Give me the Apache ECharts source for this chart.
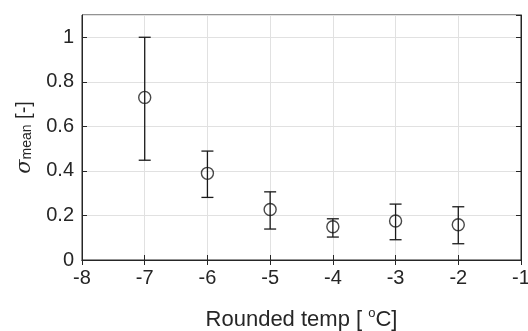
<!DOCTYPE html>
<html>
<head>
<meta charset="utf-8">
<script src="https://cdn.jsdelivr.net/npm/echarts@6/dist/echarts.min.js"></script>
<style>html,body{margin:0;padding:0;background:#fff}#c{width:528px;height:331px}</style>
</head>
<body>
<div id="c"></div>
<script>
const temps = [-7, -6, -5, -4, -3, -2];
const means = [0.73, 0.389, 0.227, 0.149, 0.175, 0.158];
const lowers = [0.448, 0.281, 0.139, 0.103, 0.091, 0.073];
const uppers = [1.0, 0.489, 0.306, 0.185, 0.251, 0.239];
const xTicks = [-8, -7, -6, -5, -4, -3, -2, -1];
const yTicks = [0, 0.2, 0.4, 0.6, 0.8, 1];

const TXT = '#262626';
const FONT = 'Liberation Sans, Arial, sans-serif';
const chart = echarts.init(document.getElementById('c'), null, {renderer: 'canvas'});

const errData = temps.map((t, i) => [t, lowers[i], uppers[i]]);
const ptData = temps.map((t, i) => [t, means[i]]);

chart.setOption({
  animation: false,
  backgroundColor: '#fff',
  grid: {left: 82, right: 7, top: 15, bottom: 71, show: true, borderColor: TXT, borderWidth: 1,
    containLabel: false, outerBoundsMode: 'none'},
  xAxis: [{
    type: 'value', min: -8, max: -1, interval: 1,
    name: '{t|Rounded temp [ }{sup|o}{t|C]}', nameLocation: 'middle', nameGap: 47,
    nameTextStyle: {color: TXT, fontSize: 22, fontFamily: FONT,
      rich: {
        t: {fontSize: 22, lineHeight: 24, color: TXT, fontFamily: FONT, verticalAlign: 'bottom'},
        sup: {fontSize: 13, lineHeight: 14, verticalAlign: 'top', color: TXT, fontFamily: FONT}
      }},
    axisLine: {show: true, lineStyle: {color: TXT, width: 1}},
    axisTick: {show: true, inside: true, length: 5, lineStyle: {color: TXT}},
    axisLabel: {color: TXT, fontSize: 20, fontFamily: FONT, margin: 8,
      formatter: v => xTicks.includes(v) ? String(v) : ''},
    splitLine: {show: true, lineStyle: {color: '#e1e1e1', width: 1}}
  }, {
    type: 'value', min: -8, max: -1, interval: 1, position: 'top',
    axisLine: {show: true, lineStyle: {color: TXT}},
    axisTick: {show: true, inside: true, length: 5, lineStyle: {color: TXT}},
    axisLabel: {show: false}, splitLine: {show: false}
  }],
  yAxis: [{
    type: 'value', min: 0, max: 1.1, interval: 0.2,
    name: '{s|σ}{sub|mean}{t| [-]}', nameLocation: 'middle', nameGap: 43, nameRotate: 90,
    nameTextStyle: {color: TXT, fontSize: 20, fontFamily: FONT,
      rich: {
        s: {fontSize: 21, fontStyle: 'italic', fontFamily: 'DejaVu Serif, serif', color: TXT, lineHeight: 20, verticalAlign: 'top'},
        t: {fontSize: 20, fontFamily: FONT, color: TXT, lineHeight: 20, verticalAlign: 'top'},
        sub: {fontSize: 14, color: TXT, fontFamily: FONT, lineHeight: 16, padding: [14, 0, 0, 0], verticalAlign: 'bottom'}
      }},
    axisLine: {show: true, lineStyle: {color: TXT, width: 1}},
    axisTick: {show: true, inside: true, length: 5, lineStyle: {color: TXT}},
    axisLabel: {color: TXT, fontSize: 20, fontFamily: FONT, margin: 8, showMaxLabel: false,
      formatter: v => yTicks.some(t => Math.abs(t - v) < 1e-9) ? String(+v.toFixed(1)) : ''},
    splitLine: {show: true, lineStyle: {color: '#e1e1e1', width: 1}}
  }, {
    type: 'value', min: 0, max: 1.1, interval: 0.2, position: 'right',
    axisLine: {show: true, lineStyle: {color: TXT}},
    axisTick: {show: true, inside: true, length: 5, lineStyle: {color: TXT}},
    axisLabel: {show: false}, splitLine: {show: false}
  }],
  series: [{
    type: 'custom',
    data: errData,
    z: 3,
    renderItem: function (params, api) {
      const x = api.value(0);
      const lo = api.coord([x, api.value(1)]);
      const hi = api.coord([x, api.value(2)]);
      const w = 6;
      const style = {stroke: '#1a1a1a', lineWidth: 1.3, fill: null};
      return {type: 'group', children: [
        {type: 'line', shape: {x1: lo[0], y1: lo[1], x2: hi[0], y2: hi[1]}, style},
        {type: 'line', shape: {x1: lo[0] - w, y1: lo[1], x2: lo[0] + w, y2: lo[1]}, style},
        {type: 'line', shape: {x1: hi[0] - w, y1: hi[1], x2: hi[0] + w, y2: hi[1]}, style}
      ]};
    }
  }, {
    type: 'scatter',
    data: ptData,
    symbol: 'circle',
    symbolSize: 12,
    z: 4,
    itemStyle: {color: 'rgba(255,255,255,0)', borderColor: '#1a1a1a', borderWidth: 1.4}
  }]
});
</script>
</body>
</html>
